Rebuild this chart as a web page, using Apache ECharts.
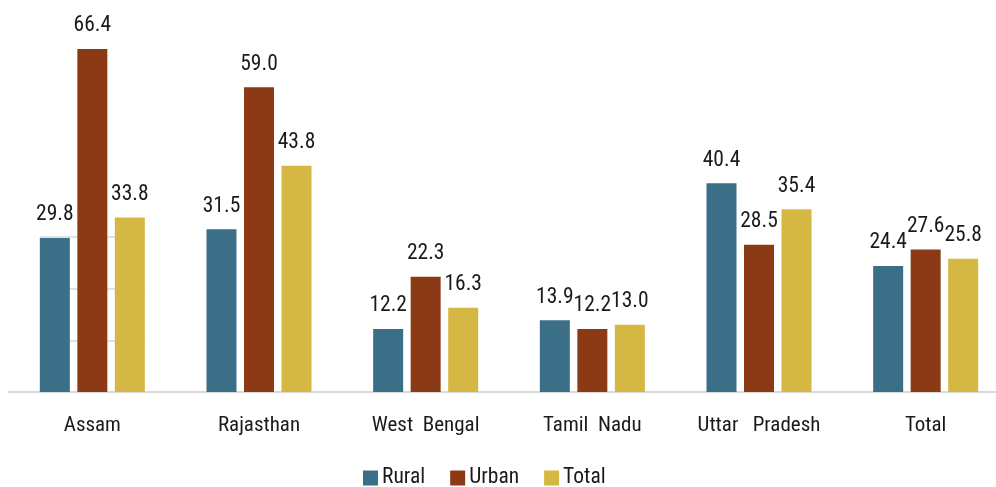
<!DOCTYPE html>
<html>
<head>
<meta charset="utf-8">
<script src="https://cdn.jsdelivr.net/npm/echarts@6/dist/echarts.min.js"></script>
<style>
  html, body { margin: 0; padding: 0; background: #ffffff; }
  #chart { width: 996px; height: 487px; }
</style>
</head>
<body>
<div id="chart"></div>
<script>
// States and the all-states total
const categories = ['Assam', 'Rajasthan', 'West  Bengal', 'Tamil  Nadu', 'Uttar   Pradesh', 'Total'];
const ruralValues = [29.8, 31.5, 12.2, 13.9, 40.4, 24.4];
const urbanValues = [66.4, 59.0, 22.3, 12.2, 28.5, 27.6];
const totalValues = [33.8, 43.8, 16.3, 13.0, 35.4, 25.8];
// Faint guide lines that show through the gaps of the first group
const guideLevels = [10, 20, 30];

const FONT = '"Liberation Sans Narrow", "Roboto Condensed", "Arial Narrow", sans-serif';

const chart = echarts.init(document.getElementById('chart'), null, { renderer: 'canvas' });

function barSeries(name, data, color, extra) {
  return Object.assign({
    name: name,
    type: 'bar',
    data: data,
    barWidth: 30,
    barGap: '25%',
    itemStyle: { color: color },
    label: {
      show: true,
      position: 'top',
      distance: 12,
      color: '#1a1a1a',
      fontFamily: FONT,
      fontSize: 21.5,
      formatter: p => p.value.toFixed(1)
    },
    emphasis: { disabled: true }
  }, extra || {});
}

chart.setOption({
  animation: false,
  backgroundColor: '#ffffff',
  textStyle: { fontFamily: FONT },
  grid: { left: 9, right: -13, top: 30.5, bottom: 95, outerBoundsMode: 'none', containLabel: false },
  legend: {
    top: 462,
    left: 358,
    itemWidth: 15,
    itemHeight: 15,
    itemGap: 25,
    icon: 'rect',
    textStyle: { fontFamily: FONT, fontSize: 21.5, color: '#1a1a1a', padding: [0, 0, 0, -1] },
    data: ['Rural', 'Urban', 'Total']
  },
  xAxis: {
    type: 'category',
    data: categories,
    axisLine: { show: true, lineStyle: { color: '#d9d9d9', width: 2 } },
    axisTick: { show: false },
    axisLabel: { interval: 0, color: '#1a1a1a', fontFamily: FONT, fontSize: 21, margin: 23 }
  },
  yAxis: {
    type: 'value',
    min: 0,
    max: 70,
    interval: 10,
    show: false,
    splitLine: { show: false }
  },
  series: [
    barSeries('Rural', ruralValues, '#3a6f87', {
      markLine: {
        silent: true,
        symbol: 'none',
        z: 0,
        label: { show: false },
        lineStyle: { color: '#d9d9d9', type: 'solid', width: 1.5 },
        data: guideLevels.map(v => [{ x: 40, yAxis: v }, { x: 145, yAxis: v }])
      }
    }),
    barSeries('Urban', urbanValues, '#8c3a15'),
    barSeries('Total', totalValues, '#d4b843')
  ]
});
</script>
</body>
</html>
